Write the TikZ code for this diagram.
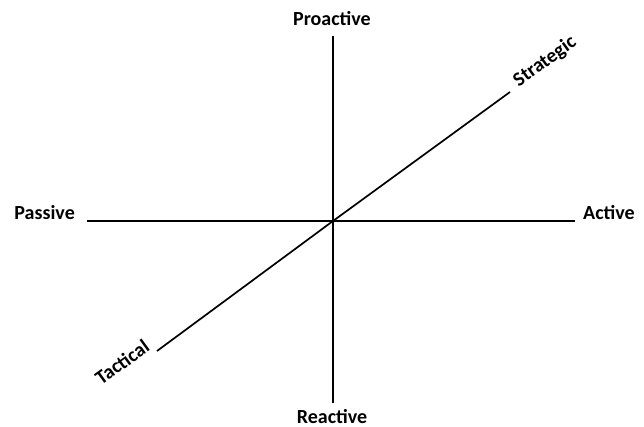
\documentclass[tikz,border=0pt]{standalone}
\usepackage{fontspec}
\setmainfont{Carlito}
\usetikzlibrary{positioning}

\begin{document}
\begin{tikzpicture}[x=1pt,y=-1pt,
  axis/.style={line width=1.7pt},
  lbl/.style={font=\bfseries\fontsize{20}{24}\selectfont,inner sep=0pt}]
\useasboundingbox (0,0) rectangle (644,427);
% axis ends
\coordinate (o) at (333,221);
\coordinate (n) at (333,36);
\coordinate (s) at (333,403);
\coordinate (w) at (87,221);
\coordinate (e) at (575,221);
\coordinate (sw) at (157,351);
\coordinate (ne) at (510,92);
% axes
\draw[axis] (w) -- (o) -- (e);
\draw[axis] (n) -- (o) -- (s);
\draw[axis] (sw) -- (o) -- (ne);
% labels
\node[lbl,anchor=base] (proactive) at (332,26) {Proactive};
\node[lbl,anchor=base] (reactive) at (332,423) {Reactive};
\node[lbl,anchor=base east] (passive) at (75,220) {Passive};
\node[lbl,anchor=base west] (active) at (583,220) {Active};
\node[lbl,rotate=36] (strategic) at (545,62) {Strategic};
\node[lbl,rotate=36] (tactical) at (122,362) {Tactical};
\end{tikzpicture}
\end{document}
